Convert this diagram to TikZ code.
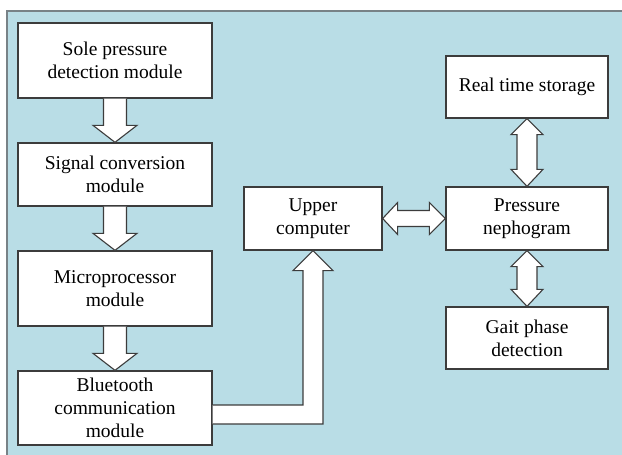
\documentclass[tikz,border=0pt]{standalone}
\usepackage{fontspec}
\setmainfont{Liberation Serif}
\usetikzlibrary{calc}
\definecolor{bgblue}{RGB}{185,221,230}
\definecolor{edge}{RGB}{60,60,60}
\definecolor{frame}{RGB}{120,130,135}
\tikzset{
  box/.style={draw=edge, line width=1.3pt, fill=white, align=center, inner sep=2pt,
    font=\fontsize{19.5}{23}\selectfont},
  blk/.style={draw=edge, line width=1.1pt, fill=white, line join=miter}
}
\begin{document}
\begin{tikzpicture}[x=1pt,y=-1pt]
\useasboundingbox (0,0) rectangle (622,455);
\fill[bgblue] (7,11) rectangle (622,455);
\draw[frame, line width=1.2pt] (7,455) -- (7,11) -- (622,11);

\node[box, minimum width=194pt, minimum height=75pt] (sole) at (115,60.5) {Sole pressure\\detection module};
\node[box, minimum width=194pt, minimum height=63pt] (sig) at (115,174.5) {Signal conversion\\module};
\node[box, minimum width=194pt, minimum height=75pt] (micro) at (115,288.5) {Microprocessor\\module};
\node[box, minimum width=194pt, minimum height=74pt] (blue) at (115,408) {Bluetooth\\communication\\module};
\node[box, minimum width=138pt, minimum height=63pt] (upper) at (313,218.5) {Upper\\computer};
\node[box, minimum width=162pt, minimum height=63pt] (press) at (527,218.5) {Pressure\\nephogram};
\node[box, minimum width=162pt, minimum height=62pt] (store) at (527,87) {Real time storage};
\node[box, minimum width=162pt, minimum height=62pt] (gait) at (527,338) {Gait phase\\detection};

% single down arrows
\foreach \a/\b in {sole/sig, sig/micro, micro/blue}{
  \draw[blk] ($(\a.south)+(-11.5,0)$) -- ($(\b.north)+(-11.5,-17)$) -- ($(\b.north)+(-22,-17)$)
    -- (\b.north) -- ($(\b.north)+(22,-17)$) -- ($(\b.north)+(11.5,-17)$)
    -- ($(\a.south)+(11.5,0)$);
}

% vertical double arrows
\foreach \a/\b in {store/press, press/gait}{
  \draw[blk] (\a.south) -- ($(\a.south)+(16,16)$) -- ($(\a.south)+(10,16)$)
    -- ($(\b.north)+(10,-17)$) -- ($(\b.north)+(16,-17)$) -- (\b.north)
    -- ($(\b.north)+(-16,-17)$) -- ($(\b.north)+(-10,-17)$)
    -- ($(\a.south)+(-10,16)$) -- ($(\a.south)+(-16,16)$) -- cycle;
}

% horizontal double arrow
\draw[blk] (upper.east) -- ($(upper.east)+(15,-16)$) -- ($(upper.east)+(15,-8)$)
  -- ($(press.west)+(-16,-8)$) -- ($(press.west)+(-16,-16)$) -- (press.west)
  -- ($(press.west)+(-16,16)$) -- ($(press.west)+(-16,8)$)
  -- ($(upper.east)+(15,8)$) -- ($(upper.east)+(15,16)$) -- cycle;

% bent arrow from bluetooth to upper computer
\draw[blk] (blue.east |- 0,405) -- ($(upper.south |- 0,405)+(-10,0)$)
  -- ($(upper.south)+(-10,20)$) -- ($(upper.south)+(-20,20)$) -- (upper.south)
  -- ($(upper.south)+(20,20)$) -- ($(upper.south)+(10,20)$)
  -- ($(upper.south |- 0,424)+(10,0)$) -- (blue.east |- 0,424);
\end{tikzpicture}
\end{document}
